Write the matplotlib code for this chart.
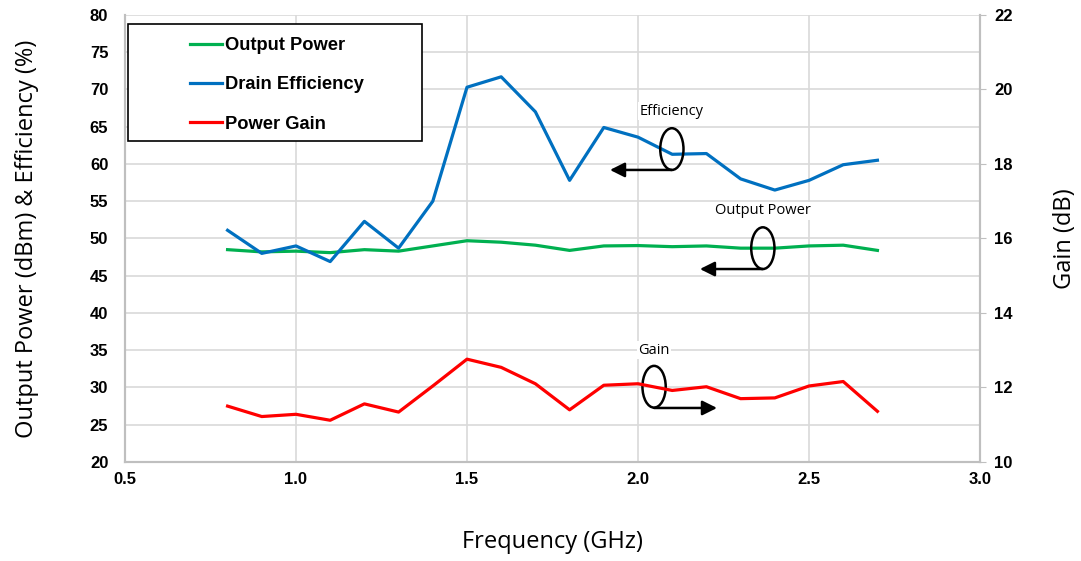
import numpy as np
import matplotlib.pyplot as plt
from matplotlib.patches import Ellipse, Rectangle

freq = [0.8, 0.9, 1.0, 1.1, 1.2, 1.3, 1.4, 1.5, 1.6, 1.7,
        1.8, 1.9, 2.0, 2.1, 2.2, 2.3, 2.4, 2.5, 2.6, 2.7]
pout = [48.5, 48.2, 48.3, 48.1, 48.5, 48.3, 49.0, 49.7, 49.5, 49.1,
        48.4, 49.0, 49.05, 48.9, 49.0, 48.7, 48.7, 49.0, 49.1, 48.4]
eff = [51.1, 48.0, 49.0, 46.9, 52.3, 48.7, 55.0, 70.3, 71.7, 67.0,
       57.8, 64.9, 63.6, 61.3, 61.4, 58.0, 56.5, 57.8, 59.9, 60.5]
gain = [11.5, 11.22, 11.28, 11.12, 11.56, 11.34, 12.04, 12.76, 12.54, 12.1,
        11.4, 12.06, 12.1, 11.92, 12.02, 11.7, 11.72, 12.04, 12.16, 11.36]

fig = plt.figure(figsize=(10.81, 5.61), dpi=100)
ax = fig.add_axes([0.1156, 0.1765, 0.791, 0.7968])
ax2 = ax.twinx()

tickfont = dict(family='Liberation Sans', weight='bold', size=12)
labfont = dict(family='Open Sans', size=17)

l1, = ax.plot(freq, pout, color='#00b050', lw=2.3, label='Output Power')
l2, = ax.plot(freq, eff, color='#0070c0', lw=2.3, label='Drain Efficiency')
l3, = ax2.plot(freq, gain, color='#ff0000', lw=2.3, label='Power Gain')

ax.set_xlim(0.5, 3.0)
ax.set_ylim(20, 80)
ax2.set_ylim(10, 22)
ax.set_xticks(np.arange(0.5, 3.01, 0.5))
ax.set_yticks(np.arange(20, 81, 5))
ax2.set_yticks(np.arange(10, 23, 2))
ax.set_xticklabels(['%.1f' % v for v in np.arange(0.5, 3.01, 0.5)], **tickfont)
ax.set_yticklabels([str(v) for v in range(20, 81, 5)], **tickfont)
ax2.set_yticklabels([str(v) for v in range(10, 23, 2)], **tickfont)

ax.grid(True, color='#d9d9d9', lw=1.2)
ax.set_axisbelow(True)
for a in (ax, ax2):
    for s in ('left', 'bottom', 'right'):
        a.spines[s].set_color('#bfbfbf')
        a.spines[s].set_linewidth(1.5)
    a.spines['top'].set_visible(False)
ax.tick_params(axis='y', length=0, pad=12)
ax.tick_params(axis='x', length=0, pad=7)
ax2.tick_params(axis='y', length=4, color='#bfbfbf', pad=6)

ax.set_xlabel('Frequency (GHz)', **labfont)
ax.set_ylabel('Output Power (dBm) & Efficiency (%)', **labfont)
ax2.set_ylabel('Gain (dB)', **labfont)
ax.yaxis.set_label_coords(-0.101, 0.5)
ax2.yaxis.set_label_coords(1.0854, 0.5)
ax.xaxis.set_label_coords(0.5, -0.152)

# legend box drawn separately so the entries can sit to the right
box = Rectangle((0.1184, 0.7487), 0.272, 0.2086, transform=fig.transFigure,
                fc='white', ec='black', lw=1.2, zorder=8, clip_on=False)
ax2.add_patch(box)
leg = ax2.legend(handles=[l1, l2, l3], loc='upper left',
                 bbox_to_anchor=(190 / 1081, 1 - 37 / 561), bbox_transform=fig.transFigure,
                 prop=dict(family='Liberation Sans', weight='bold', size=13.2),
                 handlelength=1.75, handletextpad=0.15, labelspacing=1.22,
                 borderpad=0, borderaxespad=0, frameon=False)
leg.set_zorder(10)

# annotations: ellipse + arrow
notes = [
    ('Efficiency', 2.099, 62.0, 59.2, 1.918, 67.1),
    ('Output Power', 2.365, 48.7, 45.9, 2.181, 53.7),
    ('Gain', 2.047, 30.1, 27.25, 2.231, 35.0),
]
for txt, cx, cy, ay, ex, ty in notes:
    ax.add_patch(Ellipse((cx, cy), 0.068, 5.6, fill=False, ec='black', lw=1.8, zorder=5))
    ax.annotate('', xy=(ex, ay), xytext=(cx, ay),
                arrowprops=dict(arrowstyle='-|>', color='black', lw=1.8,
                                mutation_scale=22, shrinkA=0, shrinkB=0), zorder=5)
    ax.text(cx, ty, txt, ha='center', va='center', family='Open Sans', size=10.5,
            zorder=6, bbox=dict(fc='white', ec='none', pad=1))

fig.savefig('out.png', dpi=100)
